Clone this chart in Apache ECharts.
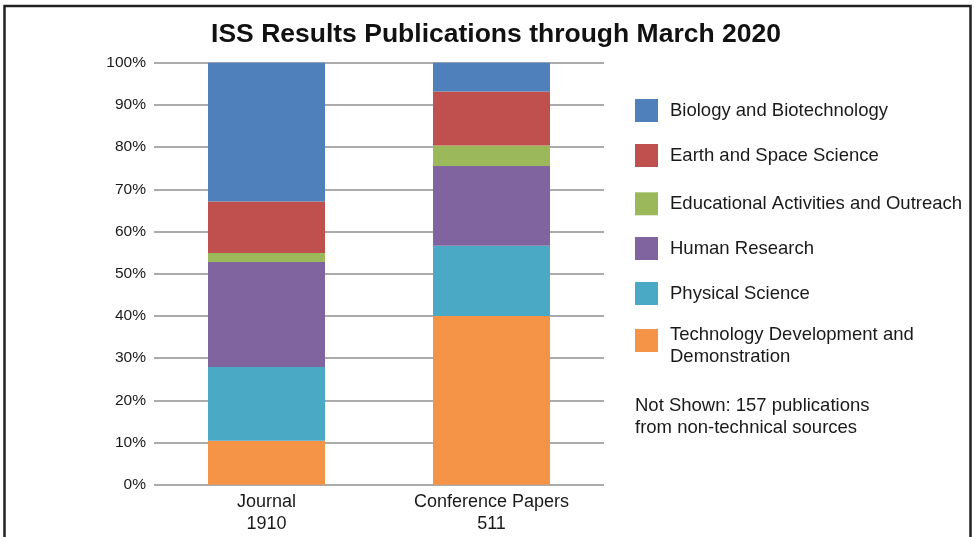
<!DOCTYPE html>
<html>
<head>
<meta charset="utf-8">
<script src="https://cdn.jsdelivr.net/npm/echarts@6/dist/echarts.min.js"></script>
<style>
html,body{margin:0;padding:0;background:#fff;}
#chart{width:974px;height:537px;}
</style>
</head>
<body>
<div id="chart"></div>
<script>
// ---- data ----
const categories = ['Journal', 'Conference Papers'];
const counts = ['1910', '511'];
const seriesNames = [
  'Technology Development and\nDemonstration',
  'Physical Science',
  'Human Research',
  'Educational Activities and Outreach',
  'Earth and Space Science',
  'Biology and Biotechnology'
];
const techDev = [10.4, 40.0];
const physical = [17.5, 16.6];
const human = [24.9, 18.9];
const educational = [2.1, 4.9];
const earthSpace = [12.2, 12.8];
const biology = [32.9, 6.8];
const yTicks = [0, 10, 20, 30, 40, 50, 60, 70, 80, 90, 100];
const note = 'Not Shown: 157 publications\nfrom non-technical sources';

const seriesValues = [techDev, physical, human, educational, earthSpace, biology];
const colors = ['#f59446', '#4aa9c4', '#8064a0', '#9bb95a', '#c0504d', '#4f80bb'];
const FONT = '"Liberation Sans", Arial, Helvetica, sans-serif';

const chart = echarts.init(document.getElementById('chart'));

// one legend per item (placed top-down in reverse stack order)
const legendTops = [313.5, 282, 237, 192.3, 144, 99];
const legends = seriesNames.map((name, i) => {
  const lg = {
    show: true,
    data: [name],
    left: 635,
    top: legendTops[i],
    orient: 'vertical',
    itemWidth: 23,
    itemHeight: 23,
    icon: 'rect',
    selectedMode: false,
    padding: 0,
    textStyle: {
      fontFamily: FONT,
      fontSize: 18.5,
      color: '#1a1a1a',
      lineHeight: 22,
      padding: [0, 0, 0, 7]
    }
  };
  if (name.indexOf('\n') >= 0) {
    lg.formatter = n => '{s| }\n' + n.split('\n').map(l => '{t|' + l + '}').join('\n');
    lg.textStyle.rich = {
      s: { fontSize: 1, lineHeight: 10 },
      t: { fontFamily: FONT, fontSize: 18.5, lineHeight: 22, color: '#1a1a1a' }
    };
  }
  return lg;
});

const option = {
  backgroundColor: '#fff',
  animation: false,
  title: {
    text: 'ISS Results Publications through March 2020',
    left: 491,
    textAlign: 'center',
    top: 16,
    textStyle: { fontFamily: FONT, fontSize: 26.5, fontWeight: 'bold', color: '#111' }
  },
  legend: legends,
  grid: { left: 154, right: 370, top: 62.7, bottom: 52.3 },
  xAxis: {
    type: 'category',
    data: categories.map((c, i) => c + '\n' + counts[i]),
    axisLine: { show: false },
    axisTick: { show: false },
    axisLabel: {
      fontFamily: FONT, fontSize: 18, color: '#1a1a1a', lineHeight: 22, margin: 6
    }
  },
  yAxis: {
    type: 'value',
    min: 0, max: 100, interval: 10,
    axisLine: { show: false },
    axisTick: { show: false },
    axisLabel: {
      formatter: v => (yTicks.includes(v) ? v + '%' : ''),
      fontFamily: FONT, fontSize: 15.5, color: '#1a1a1a', margin: 8
    },
    splitLine: { show: true, lineStyle: { color: '#8f8f8f', width: 1.5 } }
  },
  series: seriesNames.map((name, i) => ({
    name: name,
    type: 'bar',
    stack: 'total',
    barWidth: 117,
    data: seriesValues[i],
    itemStyle: { color: colors[i] },
    emphasis: { disabled: true }
  })),
  graphic: [
    {
      type: 'text',
      left: 635,
      top: 395,
      style: { text: note, fontFamily: FONT, fontSize: 18.5, lineHeight: 22, fill: '#1a1a1a' }
    },
    {
      type: 'polyline',
      shape: { points: [[4.5, 600], [4.5, 6], [970.5, 6], [970.5, 600]] },
      style: { stroke: '#222', lineWidth: 2.5, fill: null }
    }
  ]
};
chart.setOption(option);
</script>
</body>
</html>
